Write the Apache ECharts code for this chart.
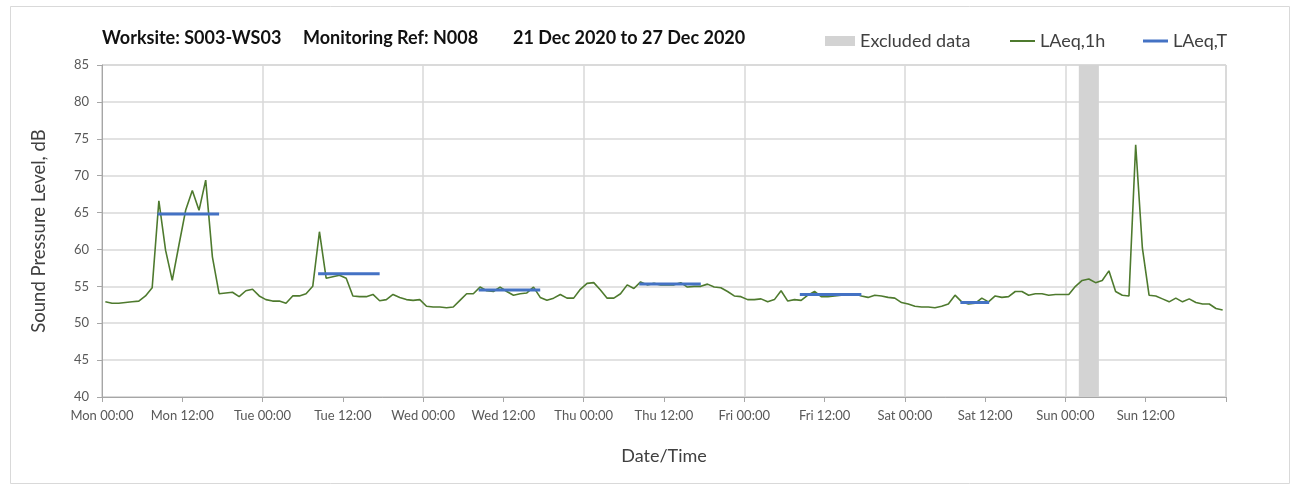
<!DOCTYPE html>
<html><head><meta charset="utf-8">
<script src="https://cdn.jsdelivr.net/npm/echarts/dist/echarts.min.js"></script>
<style>html,body{margin:0;padding:0;background:#fff}#c{width:1295px;height:488px}</style>
</head><body><div id="c"></div><script>
// ---- data ----
const dayNames = ['Mon', 'Tue', 'Wed', 'Thu', 'Fri', 'Sat', 'Sun'];
const titleParts = ['Worksite: S003-WS03', 'Monitoring Ref: N008', '21 Dec 2020 to 27 Dec 2020'];
// hourly LAeq,1h, one value per hour starting Mon 00:00 (plotted at hour midpoint)
const laeq1h = [
  52.9, 52.7, 52.7, 52.8, 52.9, 53.0, 53.7, 54.8, 66.6, 59.9, 55.8, 60.6, 65.3, 68.0, 65.3, 69.4, 59.0, 54.0, 54.1, 54.2, 53.6, 54.4, 54.6, 53.7,
  53.2, 53.0, 53.0, 52.7, 53.7, 53.7, 54.0, 55.0, 62.4, 56.1, 56.3, 56.5, 56.1, 53.7, 53.6, 53.6, 53.9, 53.05, 53.2, 53.9, 53.5, 53.2, 53.1, 53.2,
  52.3, 52.2, 52.2, 52.1, 52.2, 53.1, 54.0, 54.0, 54.9, 54.4, 54.3, 54.9, 54.3, 53.8, 54.0, 54.1, 54.9, 53.5, 53.1, 53.4, 53.9, 53.4, 53.4, 54.6,
  55.4, 55.5, 54.5, 53.4, 53.4, 54.0, 55.2, 54.7, 55.6, 55.2, 55.4, 55.2, 55.2, 55.2, 55.5, 54.9, 55.0, 55.0, 55.3, 54.9, 54.8, 54.3, 53.7, 53.6,
  53.2, 53.2, 53.3, 52.9, 53.2, 54.4, 53.0, 53.2, 53.1, 53.8, 54.3, 53.6, 53.6, 53.7, 53.8, 54.0, 54.0, 53.7, 53.5, 53.8, 53.7, 53.5, 53.4, 52.8,
  52.6, 52.3, 52.2, 52.2, 52.1, 52.3, 52.6, 53.8, 52.9, 52.6, 52.7, 53.4, 52.9, 53.7, 53.5, 53.6, 54.3, 54.3, 53.8, 54.0, 54.0, 53.8, 53.9, 53.9,
  53.9, 55.0, 55.8, 56.0, 55.5, 55.8, 57.1, 54.3, 53.8, 53.7, 74.2, 60.2, 53.8, 53.7, 53.3, 52.9, 53.4, 52.9, 53.3, 52.8, 52.6, 52.6, 52.0, 51.8
];
// LAeq,T periods (day index, start hour, end hour, level)
const periodDay = [0, 1, 2, 3, 4, 5];
const periodStart = [8.3, 8.3, 8.3, 8.3, 8.3, 8.3];
const periodEnd = [17.5, 17.5, 17.5, 17.5, 17.5, 12.6];
const laeqT = [64.8, 56.7, 54.5, 55.3, 53.9, 52.8];
// excluded data window (hours from Mon 00:00)
const excludedFrom = [146];
const excludedTo = [149];

// ---- chart ----
const FONT = 'Lato';
const chart = echarts.init(document.getElementById('c'), null, {renderer: 'canvas'});

const greenData = laeq1h.map((v, i) => [i + 0.5, v]);
const blueSeries = periodDay.map((d, i) => ({
  name: 'LAeq,T', type: 'line', symbol: 'none', z: 4,
  lineStyle: {color: '#4472c4', width: 3},
  itemStyle: {color: '#4472c4'},
  data: [[d * 24 + periodStart[i], laeqT[i]], [d * 24 + periodEnd[i], laeqT[i]]]
}));

const titleLeft = [102, 303, 513];
const legendText = {fontFamily: FONT, fontSize: 18, color: '#404040'};
chart.setOption({
  backgroundColor: '#fff',
  animation: false,
  title: titleParts.map((t, i) => ({
    text: t, left: titleLeft[i], top: 29, padding: 0,
    textStyle: {fontFamily: FONT, fontSize: 18, fontWeight: 'bold', color: '#111'}
  })),
  legend: [
    {data: [{name: 'Excluded data', icon: 'rect'}], left: 825, top: 32, padding: 0, itemWidth: 30, itemHeight: 10,
     textStyle: legendText},
    {data: [{name: 'LAeq,1h', icon: 'rect'}], left: 1010, top: 32, padding: 0, itemWidth: 25, itemHeight: 2,
     textStyle: legendText},
    {data: [{name: 'LAeq,T', icon: 'rect'}], left: 1143, top: 32, padding: 0, itemWidth: 25, itemHeight: 3,
     textStyle: legendText}
  ],
  graphic: [{type: 'rect', left: 8, top: 4, shape: {width: 1279, height: 477},
    style: {fill: 'none', stroke: '#d9d9d9', lineWidth: 1}, silent: true}],
  grid: {left: 102, right: 69, top: 65, bottom: 91, show: true, borderColor: '#bfbfbf', borderWidth: 1},
  xAxis: [
    {type: 'value', min: 0, max: 168, interval: 24, position: 'bottom',
     axisLine: {show: false}, axisTick: {show: false}, axisLabel: {show: false},
     splitLine: {show: true, lineStyle: {color: '#d9d9d9', width: 1.5}}},
    {type: 'value', min: 0, max: 168, interval: 12, position: 'bottom',
     axisLine: {show: true, lineStyle: {color: '#a6a6a6', width: 1}},
     axisTick: {show: true, length: 5, lineStyle: {color: '#a6a6a6'}},
     splitLine: {show: false},
     axisLabel: {fontFamily: FONT, fontSize: 13, color: '#595959', margin: 12,
       formatter: v => {
         const d = Math.floor(v / 24);
         if (d >= dayNames.length) return '';
         return dayNames[d] + ' ' + (v % 24 === 0 ? '00:00' : '12:00');
       }},
     name: 'Date/Time', nameLocation: 'middle', nameGap: 50,
     nameTextStyle: {fontFamily: FONT, fontSize: 18, color: '#404040'}}
  ],
  yAxis: {
    type: 'value', min: 40, max: 85, interval: 5,
    axisLine: {show: true, lineStyle: {color: '#a6a6a6'}},
    axisTick: {show: true, length: 5, lineStyle: {color: '#a6a6a6'}},
    splitLine: {show: true, lineStyle: {color: '#d9d9d9', width: 1.5}},
    axisLabel: {fontFamily: FONT, fontSize: 13, color: '#595959', margin: 13},
    name: 'Sound Pressure Level, dB', nameLocation: 'middle', nameGap: 53,
    nameTextStyle: {fontFamily: FONT, fontSize: 18.5, color: '#404040'}
  },
  series: [
    {name: 'Excluded data', type: 'line', data: [], symbol: 'none',
     itemStyle: {color: '#d3d3d3'}, lineStyle: {color: '#d3d3d3'}},
    {name: 'LAeq,1h', type: 'line', symbol: 'none', z: 3, data: greenData,
     lineStyle: {color: '#4e7a2e', width: 1.6}, itemStyle: {color: '#4e7a2e'},
     markArea: {silent: true, itemStyle: {color: '#d3d3d3'},
       data: excludedFrom.map((f, i) => [{xAxis: f}, {xAxis: excludedTo[i]}])}},
    ...blueSeries
  ]
});
</script></body></html>
